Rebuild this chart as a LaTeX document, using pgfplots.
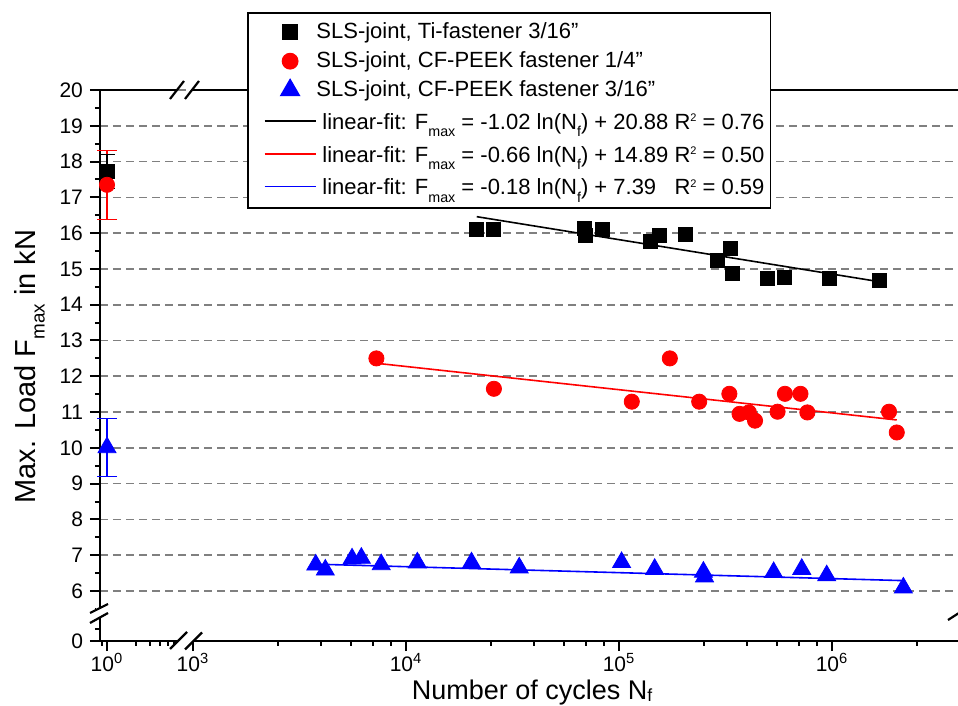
\documentclass[border=0pt]{standalone}
\usepackage{fontspec}
\setmainfont{Liberation Sans}
\usepackage{pgfplots}
\pgfplotsset{compat=1.18}
\definecolor{gridgray}{RGB}{128,128,128}
\newcommand{\sub}[1]{\raisebox{-0.33em}{\scalebox{0.65}{#1}}}
\newcommand{\lsub}[1]{\raisebox{-0.05em}{\scalebox{0.65}{#1}}}
\newcommand{\sups}[1]{\raisebox{0.36em}{\scalebox{0.5}{#1}}}
\begin{document}
\begin{tikzpicture}
\pgfplotsset{
  base/.style={
    scale only axis, anchor=south west, height=275.5pt,
    ymin=4.6028, ymax=20,
    tick align=outside,
    major tick length=5pt, minor tick length=2.5pt,
    every tick/.style={black, line width=1pt},
    axis line style={line width=1.1pt},
    /pgf/number format/assume math mode=true,
    yticklabel style={font=\fontsize{10.5}{12}\selectfont},
    xticklabel style={font=\fontsize{10.5}{12}\selectfont, inner ysep=1pt},
    clip=false,
  },
}
% frame axis: y axis and grid
\begin{axis}[base, at={(50pt,32.5pt)}, width=429pt, xmin=0, xmax=1,
  axis x line=none, axis y line*=left,
  ytick={6,7,8,9,10,11,12,13,14,15,16,17,18,19,20},
  minor ytick={4.938,5.5,6.5,7.5,8.5,9.5,10.5,11.5,12.5,13.5,14.5,15.5,16.5,17.5,18.5,19.5},
  extra y ticks={4.6028}, extra y tick labels={0}, extra y tick style={grid=none},
  ymajorgrids, major grid style={gridgray, dash pattern=on 4pt off 2.5pt, line width=0.8pt},
]
\end{axis}
% left segment (static strength, N = 1)
\begin{axis}[base, at={(50pt,32.5pt)}, width=39pt, xmode=log, xmin=0.7995, xmax=9.685,
  axis x line*=box, axis y line=none, xtick pos=left, ytick=\empty,
  xtick={1}, xticklabels={10\textsuperscript{0}},
  minor xtick={0.85,2.5,4,5.5,7,8.5},
]
\addplot[only marks, mark=square*, mark size=3.5pt, black] coordinates {(1,17.72)};
\addplot[only marks, mark=*, mark size=3.8pt, red,
  error bars/.cd, y dir=both, y explicit,
  error bar style={line width=0.6pt},
  error mark options={rotate=90, mark size=5pt, line width=0.6pt}]
  coordinates {(1,17.35) +- (0,0.97)};
\addplot[only marks, mark=none, black,
  error bars/.cd, y dir=both, y explicit,
  error bar style={line width=0.6pt},
  error mark options={rotate=90, mark size=4pt, line width=0.6pt}]
  coordinates {(1,17.72) +- (0,0.48)};
\addplot[only marks, mark=triangle*, mark size=5.2pt, blue,
  error bars/.cd, y dir=both, y explicit,
  error bar style={line width=0.6pt},
  error mark options={rotate=90, mark size=5pt, line width=0.6pt}]
  coordinates {(1,10.01) +- (0,0.8)};
\end{axis}
% right segment (fatigue)
\begin{axis}[base, at={(96.5pt,32.5pt)}, width=382.5pt, xmode=log, xmin=1000, xmax=3.904e6,
  axis x line*=box, axis y line=none, xtick pos=left, ytick=\empty,
  xtick={1e3,1e4,1e5,1e6},
  xticklabels={10\textsuperscript{3},10\textsuperscript{4},10\textsuperscript{5},10\textsuperscript{6}},
  minor xtick={2500,4000,5500,7000,8500,25000,40000,55000,70000,85000,250000,400000,550000,700000,850000,2500000},
  legend image code/.code={\path (0pt,0pt) (30.5pt,0pt);
    \draw[mark repeat=2,mark phase=2,#1] plot coordinates {(5pt,0pt) (17.75pt,0pt) (30.5pt,0pt)};},
  legend style={at={(0.0706,1.1416)}, anchor=north west, draw=black, line width=0.8pt,
    fill=white, font=\fontsize{11}{13}\selectfont, inner xsep=3pt, inner ysep=2.5pt,
    nodes={inner xsep=0pt, inner ysep=2.5pt}, column sep=0pt, row sep=0pt,
    cells={anchor=west}},
]
\addplot[only marks, mark=square*, mark size=3.5pt, black] coordinates {
(21480,16.11) (25700,16.11) (68700,16.13) (69500,15.93) (83600,16.11)
(141000,15.76) (154000,15.95) (204000,15.97) (289000,15.25) (334000,15.58)
(340000,14.88) (497000,14.74) (600000,14.77) (975000,14.74) (1660000,14.68)};
\addlegendentry{SLS-joint, Ti-fastener 3/16"}
\addplot[only marks, mark=*, mark size=3.8pt, red] coordinates {
(7260,12.50) (25860,11.65) (114800,11.29) (173200,12.50) (237900,11.29)
(329600,11.51) (368000,10.95) (407000,10.99) (435000,10.76) (555000,11.01)
(601000,11.51) (711000,11.51) (766000,10.99) (1852000,11.01) (2013000,10.43)};
\addlegendentry{SLS-joint, CF-PEEK fastener 1/4"}
\addplot[only marks, mark=triangle*, mark size=5.2pt, blue] coordinates {
(3770,6.73) (4180,6.59) (5580,6.90) (6170,6.92) (7650,6.74) (11300,6.79)
(20300,6.79) (34000,6.65) (102800,6.80) (147000,6.61) (249000,6.53)
(252000,6.40) (532000,6.52) (721000,6.61) (944000,6.43) (2162000,6.09)};
\addlegendentry{SLS-joint, CF-PEEK fastener 3/16"}
\addplot[black, line width=0.8pt] coordinates {(21480,16.46) (1680000,14.64)};
\addlegendentry{\rule[-5.1pt]{0pt}{15pt}\hspace{3pt}linear-fit: F\sub{max} = -1.02 ln(N\sub{f}) + 20.88 R\sups{2} = 0.76}
\addplot[red, line width=0.8pt] coordinates {(7360,12.36) (2013000,10.78)};
\addlegendentry{\rule[-5.1pt]{0pt}{15pt}\hspace{3pt}linear-fit: F\sub{max} = -0.66 ln(N\sub{f}) + 14.89 R\sups{2} = 0.50}
\addplot[blue, line width=0.8pt] coordinates {(3770,6.75) (2162000,6.29)};
\addlegendentry{\rule[-5.1pt]{0pt}{15pt}\hspace{3pt}linear-fit: F\sub{max} = -0.18 ln(N\sub{f}) + 7.39\hphantom{0} R\sups{2} = 0.59}
\end{axis}
% axis breaks
\begin{scope}[line width=1.1pt]
\fill[white] (48pt,44pt) rectangle (52pt,49pt);
\draw (45pt,46.5pt) -- (54pt,51pt);
\draw (45pt,41.5pt) -- (54pt,46.5pt);
\draw (85pt,28.5pt) -- (93.5pt,37pt);
\draw (92.5pt,28.25pt) -- (101pt,36.75pt);
\draw (85pt,303.5pt) -- (92pt,312.5pt);
\draw (92.5pt,303.5pt) -- (99.5pt,312.5pt);
\draw (474pt,43pt) -- (481pt,47.5pt);
\end{scope}
% axis labels
\node[rotate=90, anchor=base, font=\fontsize{14.5}{17}\selectfont] at (17.5pt,169.75pt) {Max. Load F\sub{max} in kN};
\node[anchor=base, inner sep=0pt, font=\fontsize{13.5}{16}\selectfont] at (266pt,3pt) {Number of cycles N\lsub{f}};
\pgfresetboundingbox
\path (0pt,0pt) rectangle (479pt,353pt);
\end{tikzpicture}
\end{document}
